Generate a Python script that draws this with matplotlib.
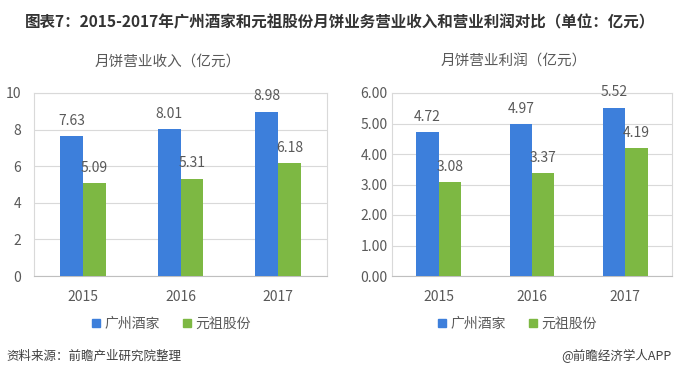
import matplotlib
matplotlib.use("Agg")
import matplotlib.pyplot as plt
import numpy as np
from matplotlib.ticker import FormatStrFormatter
from matplotlib.lines import Line2D

plt.rcParams['font.family'] = ['Noto Sans CJK SC', 'DejaVu Sans']

years = ['2015', '2016', '2017']
series_names = ['广州酒家', '元祖股份']
revenue_gz = [7.63, 8.01, 8.98]
revenue_yz = [5.09, 5.31, 6.18]
profit_gz = [4.72, 4.97, 5.52]
profit_yz = [3.08, 3.37, 4.19]

title = '图表7：2015-2017年广州酒家和元祖股份月饼业务营业收入和营业利润对比（单位：亿元）'
sub1 = '月饼营业收入（亿元）'
sub2 = '月饼营业利润（亿元）'
source = '资料来源：前瞻产业研究院整理'
credit = '@前瞻经济学人APP'

blue = '#3D7FDB'
green = '#7DB843'
txt = '#595959'
grid = '#D9D9D9'

fig = plt.figure(figsize=(6.8, 3.77), dpi=100)
fig.patch.set_facecolor('white')

ax1 = fig.add_axes([34/680, 1-276/377, 293/680, 183/377])
ax2 = fig.add_axes([392/680, 1-276/377, 280/680, 183/377])

def draw(ax, a, b, ymax, step, fmt, width, ypad, labfmt):
    x = np.arange(len(years))
    ax.bar(x - width/2, a, width, color=blue, zorder=3)
    ax.bar(x + width/2, b, width, color=green, zorder=3)
    for xi, v in zip(x, a):
        ax.annotate(labfmt % v, (xi - width/2, v), xytext=(0, 6), textcoords='offset points',
                    ha='center', va='bottom', fontsize=10, color=txt)
    for xi, v in zip(x, b):
        ax.annotate(labfmt % v, (xi + width/2, v), xytext=(0, 6), textcoords='offset points',
                    ha='center', va='bottom', fontsize=10, color=txt)
    ax.set_xlim(-0.5, len(years) - 0.5)
    ax.set_ylim(0, ymax)
    ax.set_yticks(np.arange(0, ymax + 1e-9, step))
    ax.yaxis.set_major_formatter(FormatStrFormatter(fmt))
    ax.set_xticks(x)
    ax.set_xticklabels(years)
    ax.tick_params(axis='both', length=0, labelsize=10, labelcolor=txt)
    ax.tick_params(axis='y', pad=ypad)
    ax.tick_params(axis='x', pad=10)
    ax.grid(axis='y', color=grid, linewidth=0.8, zorder=0)
    for s in ax.spines.values():
        s.set_color(grid)
        s.set_linewidth(0.8)
    ax.spines['bottom'].set_color('#BFBFBF')

draw(ax1, revenue_gz, revenue_yz, 10, 2, '%d', 0.235, 9, '%.2f')
draw(ax2, profit_gz, profit_yz, 6, 1, '%.2f', 0.24, 3, '%.2f')

fig.text(340/680, 1-22/377, title, ha='center', va='center', fontsize=11.2,
         fontweight='bold', color='#333333')
fig.text(168/680, 1-62/377, sub1, ha='center', va='center', fontsize=10.5, color=txt)
fig.text(514/680, 1-62/377, sub2, ha='center', va='center', fontsize=10.5, color=txt)

handles = [Line2D([], [], marker='s', linestyle='', color=blue, markersize=6),
           Line2D([], [], marker='s', linestyle='', color=green, markersize=6)]
for cx in (170, 516):
    fig.legend(handles, series_names, loc='center', bbox_to_anchor=(cx/680, 1-324/377),
               ncol=2, frameon=False, fontsize=10, labelcolor=txt, handletextpad=0.1,
               columnspacing=1.5, handlelength=1.0)

fig.text(6/680, 1-356/377, source, ha='left', va='center', fontsize=9,
         style='italic', color='#404040')
fig.text(672/680, 1-356/377, credit, ha='right', va='center', fontsize=9, color='#404040')

fig.savefig('out.png', dpi=100, facecolor='white')
